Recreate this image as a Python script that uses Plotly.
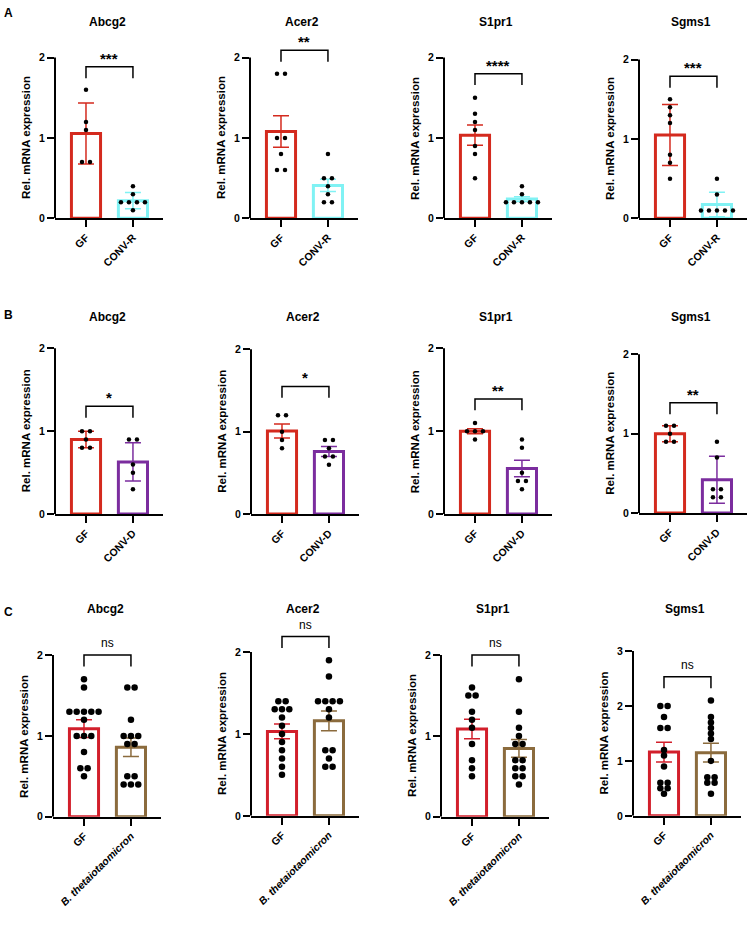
import plotly.graph_objects as go
from collections import Counter

# ---------------- data ----------------
genes = ["Abcg2", "Acer2", "S1pr1", "Sgms1"]
row_letters = ["A", "B", "C"]
group_labels = [["GF", "CONV-R"], ["GF", "CONV-D"], ["GF", "B. thetaiotaomicron"]]

# Row A: GF vs CONV-R
A_gf_mean = [1.055, 1.08, 1.035, 1.05]
A_gf_err = [0.38, 0.195, 0.125, 0.385]
A_cv_mean = [0.22, 0.41, 0.24, 0.175]
A_cv_err = [0.10, 0.075, 0.03, 0.155]
A_gf_pts = [[1.6, 1.2, 1.1, 0.7, 0.7],
            [1.8, 1.8, 1.0, 1.0, 0.8, 0.6, 0.6],
            [1.5, 1.3, 1.2, 1.1, 0.9, 0.8, 0.5],
            [1.5, 1.4, 1.3, 1.2, 0.8, 0.7, 0.5]]
A_cv_pts = [[0.4, 0.3, 0.2, 0.2, 0.2, 0.2, 0.1],
            [0.8, 0.5, 0.5, 0.4, 0.3, 0.2, 0.2],
            [0.4, 0.3, 0.2, 0.2, 0.2, 0.2, 0.2],
            [0.5, 0.3, 0.1, 0.1, 0.1, 0.1, 0.1]]
A_sig = ["***", "**", "****", "***"]

# Row B: GF vs CONV-D
B_gf_mean = [0.9, 1.01, 1.0, 1.0]
B_gf_err = [0.1, 0.085, 0.03, 0.1]
B_cv_mean = [0.63, 0.76, 0.55, 0.42]
B_cv_err = [0.23, 0.06, 0.1, 0.295]
B_gf_pts = [[1.0, 1.0, 0.9, 0.8, 0.8],
            [1.2, 1.2, 1.0, 0.9, 0.8],
            [1.1, 1.0, 1.0, 1.0, 0.9],
            [1.1, 1.1, 1.0, 0.9, 0.9]]
B_cv_pts = [[0.9, 0.9, 0.6, 0.5, 0.3],
            [0.9, 0.9, 0.8, 0.7, 0.7, 0.6],
            [0.9, 0.8, 0.5, 0.4, 0.4, 0.3],
            [0.9, 0.7, 0.3, 0.3, 0.2, 0.2]]
B_sig = ["*", "*", "**", "**"]

# Row C: GF vs B. thetaiotaomicron
C_gf_mean = [1.09, 1.03, 1.085, 1.16]
C_gf_err = [0.11, 0.09, 0.12, 0.18]
C_bt_mean = [0.86, 1.16, 0.845, 1.15]
C_bt_err = [0.115, 0.12, 0.11, 0.17]
C_gf_pts = [[1.7, 1.6, 1.3, 1.3, 1.3, 1.3, 1.3, 1.2, 1.0, 1.0, 1.0, 0.8, 0.6, 0.6, 0.5],
            [1.4, 1.4, 1.3, 1.3, 1.3, 1.2, 1.1, 1.0, 0.9, 0.8, 0.7, 0.6, 0.5],
            [1.6, 1.5, 1.5, 1.3, 1.2, 1.1, 0.9, 0.7, 0.6, 0.5],
            [2.0, 2.0, 1.8, 1.6, 1.6, 1.2, 1.1, 0.9, 0.6, 0.6, 0.5, 0.5, 0.4]]
C_bt_pts = [[1.6, 1.6, 1.2, 1.0, 1.0, 1.0, 0.9, 0.9, 0.5, 0.5, 0.4, 0.4, 0.4],
            [1.9, 1.7, 1.4, 1.4, 1.4, 1.4, 1.3, 1.2, 0.8, 0.8, 0.7, 0.6, 0.6],
            [1.7, 1.3, 1.1, 1.0, 0.9, 0.9, 0.7, 0.7, 0.6, 0.6, 0.5, 0.5, 0.4],
            [2.1, 1.8, 1.7, 1.6, 1.5, 1.4, 1.0, 0.7, 0.7, 0.6, 0.6, 0.4]]
C_sig = ["ns", "ns", "ns", "ns"]

y_axis_max = [[2, 2, 2, 2], [2, 2, 2, 2], [2, 2, 2, 3]]
y_title = "Rel. mRNA expression"

# ---------------- layout helpers (positions / styles) ----------------
W, H = 747, 929
axis_left_px = [[55, 250, 444, 639], [55, 251, 444, 639], [53, 251, 441, 633]]
axis_zero_px = [[219, 219, 219, 219], [517, 517, 517, 516], [822, 821, 822, 821]]
axis_top_px = [[57, 57, 57, 59], [350, 351, 350, 356], [659, 656, 659, 655]]
axis_len_px = 108
x_range = [-0.66, 1.64]
bracket_y = [[1.885, 2.09, 1.80, 1.79], [1.30, 1.55, 1.39, 1.39], [2.0, 2.19, 2.0, 2.53]]
title_y_px = [21, 318, 613]
letter_y_px = [12, 316, 616]
bar_colors = [["#d42a1e", "#80f2f4"], ["#d42a1e", "#7b2d9e"], ["#d21f2b", "#8b6b3d"]]
dot_size = [4.5, 4.5, 6.5]
dot_gap_px = [8.0, 8.0, 7.3]
FONT = "Arial, 'Liberation Sans', sans-serif"

rows = [
    (A_gf_mean, A_gf_err, A_cv_mean, A_cv_err, A_gf_pts, A_cv_pts, A_sig),
    (B_gf_mean, B_gf_err, B_cv_mean, B_cv_err, B_gf_pts, B_cv_pts, B_sig),
    (C_gf_mean, C_gf_err, C_bt_mean, C_bt_err, C_gf_pts, C_bt_pts, C_sig),
]


def swarm(vals, center, gap):
    counts = Counter(vals)
    seen = {}
    xs = []
    for v in vals:
        n = counts[v]
        i = seen.get(v, 0)
        seen[v] = i + 1
        xs.append(center + (i - (n - 1) / 2) * gap)
    return xs


fig = go.Figure()
layout = {}
shapes = []
annotations = []
x_units_per_px = (x_range[1] - x_range[0]) / axis_len_px

k = 0
for r, (gm, ge, om, oe, gp, op, sig) in enumerate(rows):
    for c in range(4):
        k += 1
        xs = "x" if k == 1 else f"x{k}"
        ys = "y" if k == 1 else f"y{k}"
        xname = "xaxis" if k == 1 else f"xaxis{k}"
        yname = "yaxis" if k == 1 else f"yaxis{k}"
        ymax = y_axis_max[r][c]
        y0 = axis_zero_px[r][c]
        ppu = (y0 - axis_top_px[r][c]) / ymax
        ytop_range = ymax + 0.3 if ymax == 2 else ymax + 0.1
        top_px = y0 - ytop_range * ppu
        xl = axis_left_px[r][c]
        layout[xname] = dict(
            domain=[xl / W, (xl + axis_len_px) / W], anchor=ys, range=x_range,
            tickvals=[0, 1],
            ticktext=["<b>GF</b>", "<b>" + group_labels[r][1] + "</b>"] if r < 2
            else ["<b>GF</b>", "<b><i>" + group_labels[r][1] + "</i></b>"],
            tickangle=-45, showline=True, linecolor="black", linewidth=2,
            ticks="outside", ticklen=7, tickwidth=2, tickcolor="black",
            tickfont=dict(family=FONT, size=10.5, color="black"),
            showgrid=False, zeroline=False, fixedrange=True,
        )
        layout[yname] = dict(
            domain=[1 - y0 / H, 1 - top_px / H], anchor=xs,
            range=[0, ytop_range], tickvals=list(range(ymax + 1)),
            ticktext=[f"<b>{t}</b>" for t in range(ymax + 1)],
            showline=False, ticks="outside", ticklen=7, tickwidth=2,
            tickcolor="black", tickfont=dict(family=FONT, size=10.5, color="black"),
            showgrid=False, zeroline=False, fixedrange=True,
        )
        # y axis line from 0 to max tick
        shapes.append(dict(type="line", xref=f"{xs} domain", yref=ys, x0=0, x1=0,
                           y0=0, y1=ymax, line=dict(color="black", width=2)))
        col_g, col_o = bar_colors[r]
        for xi, mean, err, col in [(0, gm[c], ge[c], col_g), (1, om[c], oe[c], col_o)]:
            fig.add_trace(go.Bar(
                x=[xi], y=[mean], width=0.62, xaxis=xs, yaxis=ys,
                marker=dict(color="white", line=dict(color=col, width=3)),
                error_y=dict(type="data", array=[err], color=col, thickness=1.5, width=8),
                showlegend=False, hoverinfo="skip",
            ))
        gap = dot_gap_px[r] * x_units_per_px
        for xi, pts in [(0, gp[c]), (1, op[c])]:
            fig.add_trace(go.Scatter(
                x=swarm(pts, xi, gap), y=pts, mode="markers", xaxis=xs, yaxis=ys,
                marker=dict(color="black", size=dot_size[r]),
                showlegend=False, hoverinfo="skip", cliponaxis=False,
            ))
        # significance bracket
        by = bracket_y[r][c]
        tip = 11.5 / ppu
        shapes.append(dict(type="path", xref=xs, yref=ys,
                           path=f"M 0,{by - tip} L 0,{by} L 1,{by} L 1,{by - tip}",
                           line=dict(color="black", width=1.5)))
        is_ns = sig[c] == "ns"
        annotations.append(dict(
            xref=xs, yref=ys, x=0.5, y=by, yanchor="bottom", xanchor="center",
            text=sig[c] if is_ns else f"<b>{sig[c]}</b>", showarrow=False,
            yshift=3 if is_ns else -2,
            font=dict(family=FONT, size=12 if is_ns else 15, color="black")))
        # y axis title
        annotations.append(dict(
            xref=f"{xs} domain", yref=ys, x=0, y=ymax / 2, xshift=-29,
            xanchor="center", yanchor="middle", textangle=-90,
            text=f"<b>{y_title}</b>", showarrow=False,
            font=dict(family=FONT, size=11.5, color="black")))
        # panel title
        annotations.append(dict(
            xref="paper", yref="paper", x=(xl + axis_len_px / 2 - 2) / W,
            y=1 - title_y_px[r] / H, xanchor="center", yanchor="middle",
            text=f"<b>{genes[c]}</b>", showarrow=False,
            font=dict(family=FONT, size=12, color="black")))
    annotations.append(dict(
        xref="paper", yref="paper", x=2 / W, y=1 - letter_y_px[r] / H,
        xanchor="left", yanchor="middle", text=f"<b>{row_letters[r]}</b>",
        showarrow=False, font=dict(family=FONT, size=12, color="black")))

fig.update_layout(
    width=W, height=H, autosize=False,
    margin=dict(l=0, r=0, t=0, b=0),
    paper_bgcolor="white", plot_bgcolor="white",
    barmode="overlay", shapes=shapes, annotations=annotations,
    font=dict(family=FONT, color="black"),
    **layout,
)

fig.write_html("out.html", config={"displayModeBar": False},
               post_script="document.body.style.margin='0px';")
